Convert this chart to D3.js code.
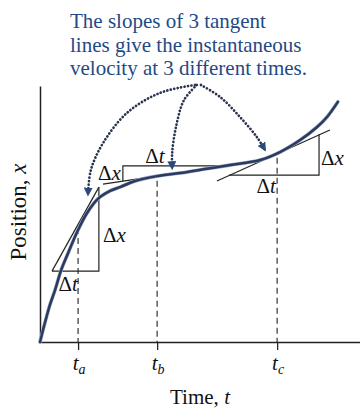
<!DOCTYPE html>
<html>
<head>
<meta charset="utf-8">
<script src="https://cdn.jsdelivr.net/npm/d3@7"></script>
<style>
  body { margin: 0; background: #fff; }
  svg { display: block; }
</style>
</head>
<body>
<div id="chart"></div>
<script>
// position curve (time, position)
const curveT = [0, 0.16, 0.31, 0.47, 0.66, 0.84, 1.16, 1.47, 1.81, 2.19, 2.5, 2.97, 3.66, 4.38, 5.16, 5.94, 6.88, 7.5, 8.13, 8.66, 8.97, 9.31]
const curveX = [0, 0.78, 1.45, 2.03, 2.81, 3.36, 4.3, 5.04, 5.59, 5.9, 6.05, 6.29, 6.48, 6.6, 6.76, 6.91, 7.11, 7.42, 7.89, 8.4, 8.79, 9.38]

// the three times with a tangent
const tickNames = ['a', 'b', 'c']
const tickTimes = [1.19, 3.66, 7.41]
const dashTops = [4.45, 6.3, 7.2]

// tangent segments and their slope triangles
const tangentStart = [[0.375, 2.77], [1.97, 6.17], [5.53, 6.29]]
const tangentEnd = [[1.84, 6.05], [5.78, 6.88], [9.06, 8.28]]
const triangles = [
    [[0.375, 2.77], [1.84, 2.77], [1.84, 6.05]],
    [[2.59, 6.29], [2.59, 6.88], [5.78, 6.88]],
    [[5.91, 6.52], [8.72, 6.52], [8.72, 8.12]]
]

// dotted arrows from the note down to the tangents
const arrows = [
    [[4.84, 10.04], [3.75, 9.73], [2.72, 8.95], [1.97, 7.77], [1.59, 6.72], [1.5, 5.75]],
    [[4.9, 10.04], [4.5, 9.45], [4.25, 8.4], [4.13, 7.38], [4.13, 6.78]],
    [[5.03, 10.04], [5.63, 9.57], [6.25, 8.79], [6.78, 8.0], [7.03, 7.5]]
]

const titleLines = [
    'The slopes of 3 tangent',
    'lines give the instantaneous',
    'velocity at 3 different times.'
]

const width = 360
const height = 410
const margin = { top: 86, bottom: 68, left: 40, right: 0 }

const navy = '#2b3a5e'
const blueText = '#1f4a86'
const serif = 'Liberation Serif'

const svg = d3.select('#chart')
    .append('svg')
    .attr('width', width)
    .attr('height', height)
    .attr('font-family', serif)

const x = d3.scaleLinear().domain([0, 10]).range([margin.left, width - margin.right])
const y = d3.scaleLinear().domain([0, 10]).range([height - margin.bottom, margin.top])

svg.append('defs').append('marker')
    .attr('id', 'head')
    .attr('viewBox', '0 0 10 10')
    .attr('refX', 8).attr('refY', 5)
    .attr('markerWidth', 9).attr('markerHeight', 9)
    .attr('markerUnits', 'userSpaceOnUse')
    .attr('orient', 'auto')
    .append('path')
    .attr('d', 'M0,0 L10,5 L0,10 z')
    .attr('fill', '#2b4a7a')

// note text
svg.append('g')
    .selectAll('text')
    .data(titleLines)
    .join('text')
    .attr('x', 70)
    .attr('y', (d, i) => 28 + i * 23.5)
    .attr('font-size', 21)
    .attr('fill', blueText)
    .text(d => d)

// axes
const xAxis = svg.append('g')
    .attr('transform', `translate(0, ${y(0)})`)
    .call(d3.axisBottom(x).tickValues(tickTimes).tickSize(8).tickSizeOuter(0).tickFormat(''))
xAxis.select('.domain').attr('stroke', '#222').attr('stroke-width', 1.5)
xAxis.selectAll('.tick line').attr('stroke', '#222').attr('stroke-width', 1.3)

const yAxis = svg.append('g')
    .attr('transform', `translate(${x(0)}, 0)`)
    .call(d3.axisLeft(y).tickValues([]).tickSizeOuter(0))
yAxis.select('.domain').attr('stroke', '#222').attr('stroke-width', 1.5)

// tick labels t_a, t_b, t_c
const tl = svg.append('g')
    .selectAll('text')
    .data(tickTimes)
    .join('text')
    .attr('x', d => x(d) + 1)
    .attr('y', 370)
    .attr('text-anchor', 'middle')
    .attr('font-size', 21)
    .attr('fill', '#111')
tl.append('tspan').attr('font-style', 'italic').text('t')
tl.append('tspan').attr('font-style', 'italic').attr('font-size', 14).attr('dy', 4)
    .text((d, i) => tickNames[i])

// dashed drop lines
svg.append('g')
    .selectAll('line')
    .data(tickTimes)
    .join('line')
    .attr('x1', d => x(d)).attr('x2', d => x(d))
    .attr('y1', (d, i) => y(dashTops[i]))
    .attr('y2', y(0))
    .attr('stroke', '#333')
    .attr('stroke-width', 1.2)
    .attr('stroke-dasharray', '6,4')

// tangents
svg.append('g')
    .selectAll('line')
    .data(tangentStart)
    .join('line')
    .attr('x1', d => x(d[0])).attr('y1', d => y(d[1]))
    .attr('x2', (d, i) => x(tangentEnd[i][0])).attr('y2', (d, i) => y(tangentEnd[i][1]))
    .attr('stroke', '#222')
    .attr('stroke-width', 1.2)

// slope triangles
const triLine = d3.line().x(d => x(d[0])).y(d => y(d[1]))
svg.append('g')
    .selectAll('path')
    .data(triangles)
    .join('path')
    .attr('d', triLine)
    .attr('fill', 'none')
    .attr('stroke', '#222')
    .attr('stroke-width', 1.2)

// the position curve
const curveLine = d3.line()
    .x((d, i) => x(curveT[i]))
    .y(d => y(d))
    .curve(d3.curveCatmullRom.alpha(0.5))
svg.append('path')
    .datum(curveX)
    .attr('d', curveLine)
    .attr('fill', 'none')
    .attr('stroke', '#9aa8c2')
    .attr('stroke-width', 3.6)
    .attr('stroke-linecap', 'round')
svg.append('path')
    .datum(curveX)
    .attr('d', curveLine)
    .attr('fill', 'none')
    .attr('stroke', navy)
    .attr('stroke-width', 2.5)
    .attr('stroke-linecap', 'round')

// delta labels: [triangle, corner, text, anchor, dx, dy]
const deltaLabels = [
    [0, 1, 't', 'end', -21, 20],
    [0, 1, 'x', 'start', 4, -29],
    [1, 0, 'x', 'end', -2, -1],
    [1, 1, 't', 'middle', 32, -3],
    [2, 1, 'x', 'start', 2, -10],
    [2, 0, 't', 'middle', 37, 18]
]
const dl = svg.append('g')
    .selectAll('text')
    .data(deltaLabels)
    .join('text')
    .attr('x', d => x(triangles[d[0]][d[1]][0]) + d[4])
    .attr('y', d => y(triangles[d[0]][d[1]][1]) + d[5])
    .attr('text-anchor', d => d[3])
    .attr('font-size', 21)
    .attr('fill', '#111')
dl.append('tspan').text('\u0394')
dl.append('tspan').attr('font-style', 'italic').text(d => d[2])

// dotted arrows
const arrowLine = d3.line()
    .x(d => x(d[0]))
    .y(d => y(d[1]))
    .curve(d3.curveCatmullRom.alpha(0.5))
svg.append('g')
    .selectAll('path')
    .data(arrows)
    .join('path')
    .attr('d', arrowLine)
    .attr('fill', 'none')
    .attr('stroke', '#2a3450')
    .attr('stroke-width', 2.7)
    .attr('stroke-linecap', 'round')
    .attr('stroke-dasharray', '0.1,3.4')
    .attr('marker-end', 'url(#head)')

// axis titles
svg.append('text')
    .attr('transform', `translate(26, ${(y(0) + y(10)) / 2 - 2}) rotate(-90)`)
    .attr('text-anchor', 'middle')
    .attr('font-size', 23)
    .attr('fill', '#111')
    .call(t => {
        t.append('tspan').text('Position, ')
        t.append('tspan').attr('font-style', 'italic').text('x')
    })

svg.append('text')
    .attr('x', 200)
    .attr('y', 404)
    .attr('text-anchor', 'middle')
    .attr('font-size', 21)
    .attr('fill', '#111')
    .call(t => {
        t.append('tspan').text('Time, ')
        t.append('tspan').attr('font-style', 'italic').text('t')
    })
</script>
</body>
</html>
